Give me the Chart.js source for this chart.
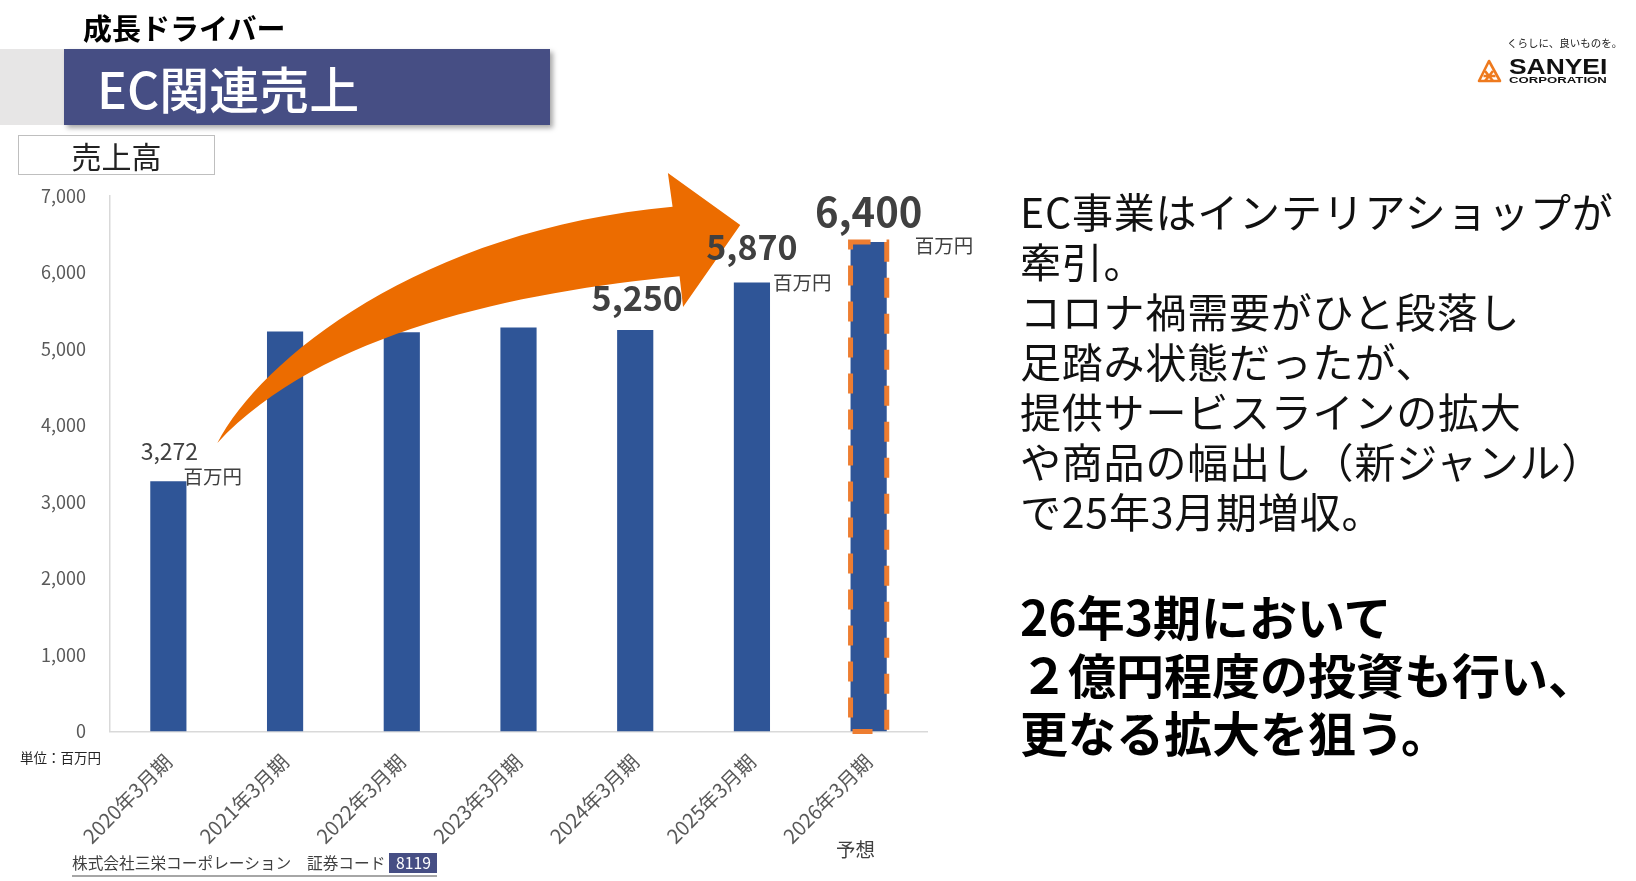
<!DOCTYPE html>
<html lang="ja">
<head>
<meta charset="utf-8">
<title>EC関連売上</title>
<script src="https://cdn.jsdelivr.net/npm/chart.js@4.4.1/dist/chart.umd.min.js"></script>
<style>
  html, body { margin: 0; padding: 0; background: #fff; }
  body { width: 1636px; height: 881px; position: relative; overflow: hidden;
         font-family: "Noto Sans CJK JP", "Noto Sans", sans-serif; color: #000; }
  #wrap { position: absolute; left: 0; top: 0; width: 1636px; height: 881px; }
  .abs { position: absolute; white-space: nowrap; }
  #driver { left: 83px; top: 8px; font-size: 29px; font-weight: 700; line-height: 38px; }
  #bandGray { left: 0; top: 49px; width: 64px; height: 76px; background: #E7E6E6; }
  #band { left: 64px; top: 49px; width: 486px; height: 76px; background: #464E84;
          box-shadow: 3px 3px 5px rgba(0,0,0,0.35); }
  #bandText { left: 97px; top: 49px; line-height: 76px; font-size: 50px; font-weight: 500; color: #fff; }
  #kpi { left: 18px; top: 135px; width: 195px; height: 38px; border: 1.5px solid #BFBFBF;
         text-align: center; font-size: 30px; line-height: 38px; color: #222; }
  #unit { left: 20px; top: 748px; font-size: 13.5px; line-height: 18px; color: #222; }
  #forecast { left: 836px; top: 837px; font-size: 19.5px; line-height: 24px; color: #404040; }
  #footer { left: 72px; top: 853px; font-size: 15.7px; line-height: 20px; color: #404040;
            border-bottom: 2px solid #A6A6A6; padding-bottom: 2px; }
  #footer .code { display: inline-block; width: 48px; text-align: center; background: #464E84;
                  color: #fff; margin-left: 4px; }
  #desc { left: 1020px; top: 185px; font-size: 41px; line-height: 50px; letter-spacing: 0.8px; color: #111; }
  #goal { left: 1020px; top: 586px; font-size: 48px; line-height: 58px; font-weight: 700; color: #000; }
  #slogan { left: 1507px; top: 36px; font-size: 10.5px; line-height: 14px; color: #222; }
  #logoIcon { left: 1477px; top: 59px; }
  #logoName { left: 1509px; top: 56px; font-family: "Liberation Sans", Arial, sans-serif; font-weight: 700;
              font-size: 22px; line-height: 22px; color: #111; transform: scaleX(1.2); transform-origin: left top; }
  #logoCorp { left: 1509px; top: 76px; font-family: "Liberation Sans", Arial, sans-serif; font-weight: 700;
              font-size: 8.5px; line-height: 9px; color: #111; transform: scaleX(1.55); transform-origin: left top; }
</style>
</head>
<body>
<div id="wrap"><canvas id="chart"></canvas></div>

<div class="abs" id="driver">成長ドライバー</div>
<div class="abs" id="bandGray"></div>
<div class="abs" id="band"></div>
<div class="abs" id="bandText">EC関連売上</div>
<div class="abs" id="kpi">売上高</div>
<div class="abs" id="unit">単位：百万円</div>
<div class="abs" id="forecast">予想</div>
<div class="abs" id="footer">株式会社三栄コーポレーション　証券コード<span class="code">8119</span></div>

<div class="abs" id="desc">EC事業はインテリアショップが<br>牽引。<br>コロナ禍需要がひと段落し<br>足踏み状態だったが、<br>提供サービスラインの拡大<br>や商品の幅出し（新ジャンル）<br>で25年3月期増収。</div>
<div class="abs" id="goal">26年3期において<br>２億円程度の投資も行い、<br>更なる拡大を狙う。</div>

<div class="abs" id="slogan">くらしに、良いものを。</div>
<svg class="abs" id="logoIcon" width="25" height="25" viewBox="0 0 25 25">
  <g fill="none" stroke="#EE7A1E" stroke-width="2.6" stroke-linejoin="round">
    <path d="M12 2 L23 22 L2 22 Z"/>
    <path d="M8 12 L16 22 M16 12 L8 22 M6.5 17 L18.5 17"/>
  </g>
</svg>
<div class="abs" id="logoName">SANYEI</div>
<div class="abs" id="logoCorp">CORPORATION</div>

<script>
const categories = ['2020年3月期', '2021年3月期', '2022年3月期', '2023年3月期', '2024年3月期', '2025年3月期', '2026年3月期'];
const sales = [3272, 5230, 5220, 5280, 5250, 5870, 6400];
const valueLabels = ['3,272', '', '', '', '5,250', '5,870', '6,400'];
const unitLabels = ['百万円', '', '', '', '', '百万円', '百万円'];
const yTickValues = [0, 1000, 2000, 3000, 4000, 5000, 6000, 7000];
const forecastIndex = 6;

// label look per bar (sizes / offsets only)
const labelStyle = [
  { size: 23, weight: 400, lift: 30, dx: 1, unitDx: -3, unitDy: -5 },
  null, null, null,
  { size: 34, weight: 700, lift: 32, dx: 2 },
  { size: 34, weight: 700, lift: 35, dx: 0, unitDx: 3, unitDy: 0 },
  { size: 40, weight: 700, lift: 30, dx: 0, unitDx: 28, unitDy: 4 }
];

// growth arrow outline in (category index, value) space
const arrowTail = [0.42, 3770];
const arrowUpper = [[0.79, 4860], [2.16, 6560], [4.32, 6860]];
const arrowHead = [[4.28, 7300], [4.90, 6620], [4.41, 5550], [4.38, 5950]];
const arrowLower = [[3.01, 5750], [1.30, 5220]];

const FONT = '"Noto Sans CJK JP", "Noto Sans", sans-serif';

const decorPlugin = {
  id: 'decor',
  afterDatasetsDraw(chart) {
    const ctx = chart.ctx;
    const xs = chart.scales.x, ys = chart.scales.y;
    const px = p => [xs.getPixelForValue(p[0]), ys.getPixelForValue(p[1])];

    // orange arrow
    ctx.save();
    const t = px(arrowTail);
    const u = arrowUpper.map(px);
    const h = arrowHead.map(px);
    const l = arrowLower.map(px);
    ctx.beginPath();
    ctx.moveTo(t[0], t[1]);
    ctx.bezierCurveTo(u[0][0], u[0][1], u[1][0], u[1][1], u[2][0], u[2][1]);
    h.forEach(p => ctx.lineTo(p[0], p[1]));
    ctx.bezierCurveTo(l[0][0], l[0][1], l[1][0], l[1][1], t[0], t[1]);
    ctx.closePath();
    ctx.fillStyle = '#EC6C00';
    ctx.fill();
    ctx.restore();

    const meta = chart.getDatasetMeta(0);

    // dashed frame on the forecast bar
    const fb = meta.data[forecastIndex];
    ctx.save();
    ctx.strokeStyle = '#ED7D31';
    ctx.lineWidth = 5;
    ctx.setLineDash([20, 16]);
    ctx.strokeRect(fb.x - fb.width / 2, fb.y, fb.width, fb.base - fb.y);
    ctx.restore();

    // value labels
    ctx.save();
    meta.data.forEach((bar, i) => {
      const st = labelStyle[i];
      if (!st || !valueLabels[i]) return;
      ctx.fillStyle = '#404040';
      ctx.textBaseline = 'middle';
      ctx.textAlign = 'center';
      ctx.font = st.weight + ' ' + st.size + 'px ' + FONT;
      ctx.fillText(valueLabels[i], bar.x + st.dx, bar.y - st.lift);
      if (unitLabels[i]) {
        ctx.textAlign = 'left';
        ctx.font = '400 19.5px ' + FONT;
        ctx.fillText(unitLabels[i], bar.x + bar.width / 2 + st.unitDx, bar.y + st.unitDy);
      }
    });
    ctx.restore();
  }
};

new Chart(document.getElementById('chart'), {
  type: 'bar',
  data: {
    labels: categories,
    datasets: [{
      data: sales,
      backgroundColor: '#2F5597',
      borderWidth: 0,
      barPercentage: 0.31,
      categoryPercentage: 1.0
    }]
  },
  options: {
    responsive: true,
    maintainAspectRatio: false,
    animation: false,
    devicePixelRatio: 1,
    layout: { padding: { left: 0, top: 196, right: 709, bottom: 9.5 } },
    plugins: { legend: { display: false }, tooltip: { enabled: false } },
    scales: {
      x: {
        grid: { display: false, drawTicks: false },
        border: { display: true, color: '#D9D9D9', width: 1.5 },
        ticks: {
          autoSkip: false, minRotation: 45, maxRotation: 45, padding: 18,
          color: '#595959', font: { family: FONT, size: 20 }
        },
        afterFit(scale) { scale.height = 140; }
      },
      y: {
        min: 0, max: 7000,
        grid: { display: false, drawTicks: false },
        border: { display: true, color: '#D9D9D9', width: 1.5 },
        afterBuildTicks(scale) { scale.ticks = yTickValues.map(v => ({ value: v })); },
        ticks: {
          padding: 24, color: '#595959', font: { family: FONT, size: 18 },
          callback: v => v.toLocaleString('en-US')
        },
        afterFit(scale) { scale.width = 110; }
      }
    }
  },
  plugins: [decorPlugin]
});
</script>
</body>
</html>
